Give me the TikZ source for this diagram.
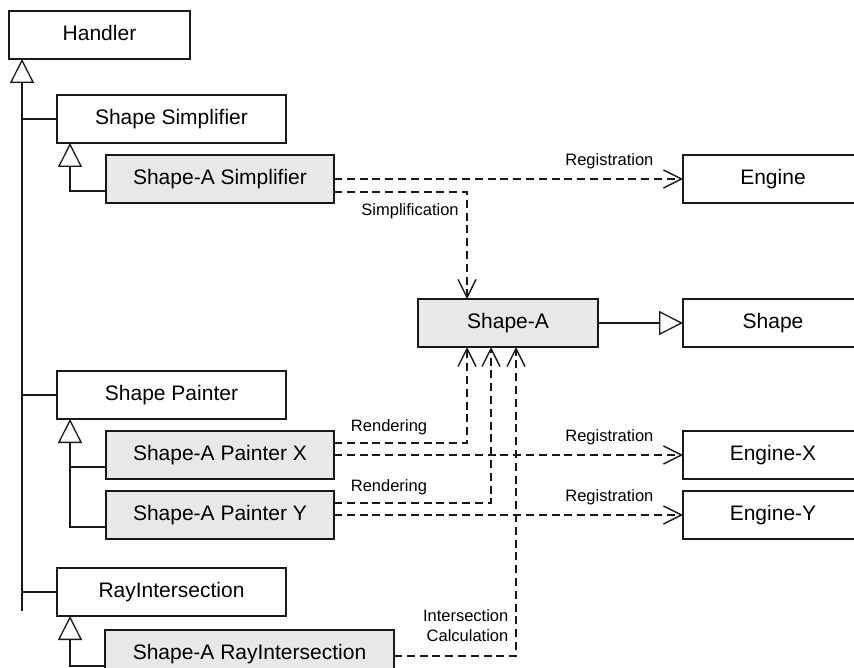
\documentclass[tikz,border=0pt]{standalone}
\usepackage{fontspec}
\setmainfont{Liberation Sans}
\usetikzlibrary{arrows.meta,calc}
\definecolor{boxgray}{RGB}{232,232,232}
\definecolor{ink}{RGB}{25,25,25}

\begin{document}
\begin{tikzpicture}[x=1pt,y=-1pt,
  box/.style={draw=ink, line width=1.3pt, fill=white, minimum height=48pt,
    inner sep=0pt, outer sep=0pt, text height=15pt, text depth=4.5pt,
    font=\fontsize{21}{25}\selectfont},
  impl/.style={box, fill=boxgray},
  lbl/.style={font=\fontsize{16.5}{20}\selectfont, inner sep=0pt},
  plain/.style={draw=ink, line width=1.3pt},
  inh/.style={plain, -{Triangle[length=24pt, width=24pt, fill=white]}},
  dep/.style={plain, line width=1.4pt, dash pattern=on 8pt off 4.8pt,
    -{Straight Barb[length=18pt, width=18pt]}}]

\useasboundingbox (0,0) rectangle (854,668);
\clip (0,0) rectangle (854,668);

% classes
\node[box,  minimum width=181pt] (handler)  at (99.5,35)  {Handler};
\node[box,  minimum width=229pt] (simp)     at (171.5,119) {Shape Simplifier};
\node[impl, minimum width=228pt] (simpA)    at (220,179)  {Shape-A Simplifier};
\node[impl, minimum width=180pt] (shapeA)   at (508,323)  {Shape-A};
\node[box,  minimum width=180pt] (engine)   at (773,179)  {Engine};
\node[box,  minimum width=180pt] (shape)    at (773,323)  {Shape};
\node[box,  minimum width=229pt] (painter)  at (171.5,395) {Shape Painter};
\node[impl, minimum width=228pt] (painterX) at (220,455)  {Shape-A Painter X};
\node[impl, minimum width=228pt] (painterY) at (220,515)  {Shape-A Painter Y};
\node[box,  minimum width=180pt] (engineX)  at (773,455)  {Engine-X};
\node[box,  minimum width=180pt] (engineY)  at (773,515)  {Engine-Y};
\node[box,  minimum width=229pt] (ray)      at (171.5,592) {RayIntersection};
\node[impl, minimum width=289pt] (rayA)     at (249.5,654) {Shape-A RayIntersection};

% inheritance trunk from Handler
\coordinate (trunkEnd) at (22,611);
\draw[inh] (trunkEnd) -- (trunkEnd |- handler.south);
\draw[plain] (simp.west -| trunkEnd) -- (simp.west);
\draw[plain] (painter.west -| trunkEnd) -- (painter.west);
\draw[plain] (ray.west -| trunkEnd) -- (ray.west);

% concrete subclasses
\draw[inh] ([yshift=-12pt]simpA.west) -| ([xshift=13pt]simp.south west);
\coordinate (pStem) at ([xshift=13pt]painter.south west);
\coordinate (xJoin) at ([yshift=-12pt]painterX.west);
\draw[inh] ([yshift=-12pt]painterY.west) -| (pStem);
\draw[plain] (xJoin) -- (xJoin -| pStem);
\draw[inh] ([yshift=-12pt]rayA.west) -| ([xshift=13pt]ray.south west);
\draw[inh] (shapeA.east) -- (shape.west);

% dependencies
\draw[dep] (simpA.east) -- node[lbl, pos=0.789, yshift=18pt] {Registration} (engine.west);
\draw[dep] ([yshift=-13pt]simpA.east) -| node[lbl, pos=0.286, yshift=-19pt] {Simplification}
  ([xshift=-41pt]shapeA.north);
\draw[dep] ([yshift=12pt]painterX.east) -| node[lbl, pos=0.207, yshift=16pt] {Rendering}
  ([xshift=-41pt]shapeA.south);
\draw[dep] (painterX.east) -- node[lbl, pos=0.789, yshift=18pt] {Registration} (engineX.west);
\draw[dep] ([yshift=12pt]painterY.east) -| node[lbl, pos=0.175, yshift=16pt] {Rendering}
  ([xshift=-17pt]shapeA.south);
\draw[dep] (painterY.east) -- node[lbl, pos=0.789, yshift=18pt] {Registration} (engineY.west);
\draw[dep] ([yshift=-2pt]rayA.east) -| node[lbl, pos=0.5485, anchor=east, xshift=-7pt, align=right]
  {Intersection\\Calculation} ([xshift=8pt]shapeA.south);
\end{tikzpicture}
\end{document}
